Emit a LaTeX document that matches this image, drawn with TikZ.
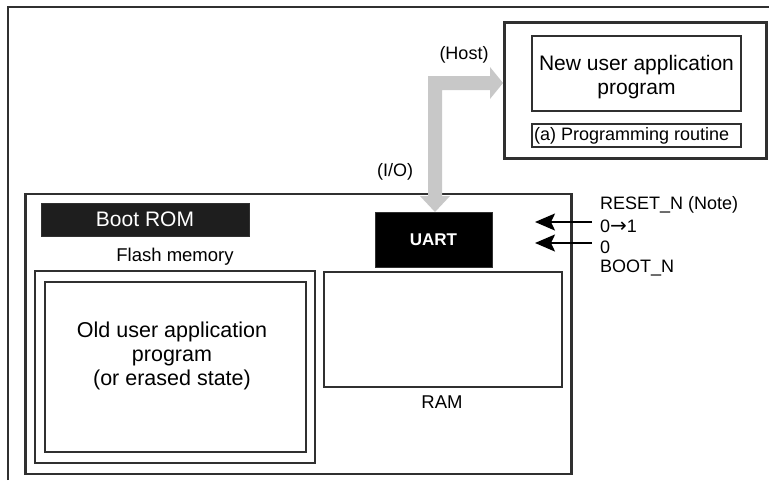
\documentclass[tikz,border=0pt]{standalone}
\usepackage{fontspec}
\setmainfont{Liberation Sans}
\newfontfamily\symfont{DejaVu Sans}
\usetikzlibrary{arrows.meta}
\definecolor{edge}{HTML}{303030}
\definecolor{pipe}{HTML}{C8C8C8}
\definecolor{blk}{HTML}{1E1E1E}
\tikzset{
  box/.style={draw=edge, line width=2.2pt, fill=none, inner sep=0pt},
  darkbox/.style={fill=blk, draw=edge, line width=1pt, inner sep=0pt, text=white},
  lbl/.style={inner sep=0pt, text=black, font=\fontsize{18}{21}\selectfont},
  big/.style={font=\fontsize{21}{23.5}\selectfont},
  sig/.style={draw=black, line width=1.8pt, -{Stealth[length=20pt,width=17pt,inset=4pt]}},
}
\begin{document}
\begin{tikzpicture}[x=1pt,y=-1pt]
\useasboundingbox (0,0) rectangle (769,480);
\fill[white] (0,0) rectangle (769,480);
% outer frame (only top and left visible)
\draw[edge, line width=2.2pt] (8,480) -- (8,7) -- (769,7);

% host side
\node[box, minimum width=262pt, minimum height=136pt] (host) at (635.5,90.5) {};
\node[box, minimum width=209pt, minimum height=75pt] (newapp) at (636.5,73.5) {};
\node[lbl, big, align=center] (newtxt) at (636.5,77) {New user application\\program};
\node[box, minimum width=209pt, minimum height=23pt] (prog) at (636.5,135.5) {};
\node[lbl, anchor=west] (progtxt) at (534,135.5) {(a) Programming routine};

% board
\node[box, minimum width=546pt, minimum height=280pt] (board) at (298.5,334) {};
\node[darkbox, big, minimum width=208pt, minimum height=33pt] (bootrom) at (145,219.5) {Boot ROM};
\node[lbl, font=\fontsize{18.5}{21}\selectfont] (flashlbl) at (175,257) {Flash memory};
\node[box, minimum width=280pt, minimum height=192pt] (flash) at (175,367) {};
\node[box, minimum width=261pt, minimum height=170pt] (oldapp) at (175.5,367) {};
\node[lbl, align=center, font=\fontsize{21.5}{24}\selectfont] (oldtxt) at (172,356)
  {Old user application\\program\\(or erased state)};
\node[box, minimum width=238pt, minimum height=115pt] (ram) at (443,329.5) {};
\node[lbl, font=\fontsize{18.5}{21}\selectfont] (ramlbl) at (442,402) {RAM};
\node[darkbox, fill=black, minimum width=117pt, minimum height=55pt,
  font=\fontsize{17}{20}\selectfont\bfseries] (uart) at (433.5,239.5) {UART};

% I/O pipe arrow
\fill[pipe] (428,196) -- (428,76) -- (490,76) -- (490,67) -- (503,83) -- (490,99)
  -- (490,90) -- (442,90) -- (442,196) -- (450,196) -- (435,212) -- (420,196) -- cycle;
\node[lbl] (hostlbl) at (464,55) {(Host)};
\node[lbl] (iolbl) at (395,172) {(I/O)};

% signals
\node[lbl, anchor=west] (reset) at (600,205) {RESET\_N (Note)};
\node[lbl, anchor=west] (r01) at (600,226) {0{\symfont\fontsize{20}{20}\selectfont →}1};
\node[lbl, anchor=west] (b0) at (600,247) {0};
\node[lbl, anchor=west] (boot) at (600,268) {BOOT\_N};
\coordinate (rt) at (535,222);
\coordinate (bt) at (535,243);
\coordinate (rs) at (592,222);
\coordinate (bs) at (592,243);
\draw[sig] (rs) -- (rt);
\draw[sig] (bs) -- (bt);
\end{tikzpicture}
\end{document}
